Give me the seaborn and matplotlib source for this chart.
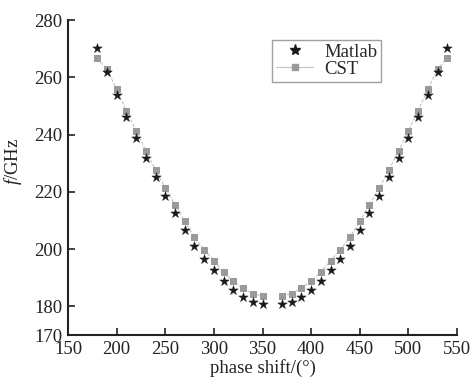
import numpy as np
import pandas as pd
import matplotlib
matplotlib.use("Agg")
import matplotlib.pyplot as plt
import seaborn as sns
from matplotlib.lines import Line2D

# ---- data ----
phase_left = [180, 190, 200, 210, 220, 230, 240, 250, 260, 270, 280, 290, 300, 310, 320, 330, 340, 350]
phase_right = [370, 380, 390, 400, 410, 420, 430, 440, 450, 460, 470, 480, 490, 500, 510, 520, 530, 540]
matlab_left = [270.1, 262.0, 253.8, 246.3, 238.9, 231.8, 225.1, 218.6, 212.5, 206.7, 201.1, 196.5, 192.7, 188.8, 185.8, 183.4, 181.6, 180.9]
cst_left = [266.6, 262.8, 255.8, 248.3, 241.3, 234.4, 227.7, 221.4, 215.5, 209.7, 204.2, 199.8, 196.0, 191.9, 188.8, 186.4, 184.4, 183.7]
matlab_right = matlab_left[::-1]
cst_right = cst_left[::-1]

x_ticks = [150, 200, 250, 300, 350, 400, 450, 500, 550]
y_ticks = [170, 180, 200, 220, 240, 260, 280]

df_m = pd.DataFrame({"phase": phase_left + phase_right,
                     "f": matlab_left + matlab_right})
df_c = pd.DataFrame({"phase": phase_left + phase_right,
                     "f": cst_left + cst_right,
                     "branch": ["L"] * len(phase_left) + ["R"] * len(phase_right)})

sns.set_style("ticks")
plt.rcParams["font.family"] = ["Liberation Serif", "DejaVu Serif"]
plt.rcParams["mathtext.fontset"] = "custom"
plt.rcParams["mathtext.rm"] = "Liberation Serif"
plt.rcParams["mathtext.it"] = "Liberation Serif:italic"

FS = 13.5
fig = plt.figure(figsize=(4.73, 3.81), dpi=100)
ax = fig.add_axes([68 / 473, 1 - 335 / 381, (457 - 68) / 473, (335 - 20) / 381])

sns.lineplot(data=df_c, x="phase", y="f", units="branch", estimator=None,
             color="#c4c4c4", linewidth=0.8, linestyle=(0, (3, 1.5)), marker="s", markersize=5,
             markerfacecolor="#9a9a9a", markeredgecolor="#9a9a9a",
             ax=ax, legend=False, zorder=2)
sns.scatterplot(data=df_m, x="phase", y="f", marker="*", s=52, color="#1a1a1a",
                edgecolor="#1a1a1a", linewidth=0.3, ax=ax, legend=False, zorder=3)

ax.set_xlim(150, 550)
ax.set_ylim(170, 280)
ax.set_xticks(x_ticks)
ax.set_yticks(y_ticks)
ax.tick_params(direction="in", length=5, width=1.2, labelsize=FS, colors="#222222")
ax.tick_params(axis="x", pad=4)
ax.tick_params(axis="y", pad=4)
for s in ["top", "right"]:
    ax.spines[s].set_visible(False)
for s in ["left", "bottom"]:
    ax.spines[s].set_linewidth(1.5)
    ax.spines[s].set_color("#222222")

ax.set_xlabel("phase shift/(°)", fontsize=FS, color="#222222", labelpad=1)
ax.set_ylabel("$f$/GHz", fontsize=FS, color="#222222")
ax.yaxis.set_label_coords(-0.113, 0.55)

handles = [
    Line2D([], [], linestyle="none", marker="*", markersize=8, color="#1a1a1a"),
    Line2D([], [], color="#c4c4c4", linewidth=0.8, marker="s", markersize=5,
           markerfacecolor="#9a9a9a", markeredgecolor="#9a9a9a"),
]
leg = ax.legend(handles, ["Matlab", "CST"], loc="upper left",
                bbox_to_anchor=((272 - 68) / 389, 1 - (40 - 20) / 315),
                frameon=True, fancybox=False, fontsize=FS, handlelength=2.0,
                handletextpad=0.6, borderpad=0.2, labelspacing=0.0, borderaxespad=0)
leg.get_frame().set_edgecolor("#888888")
leg.get_frame().set_linewidth(1.0)

fig.savefig("out.png", dpi=100)
